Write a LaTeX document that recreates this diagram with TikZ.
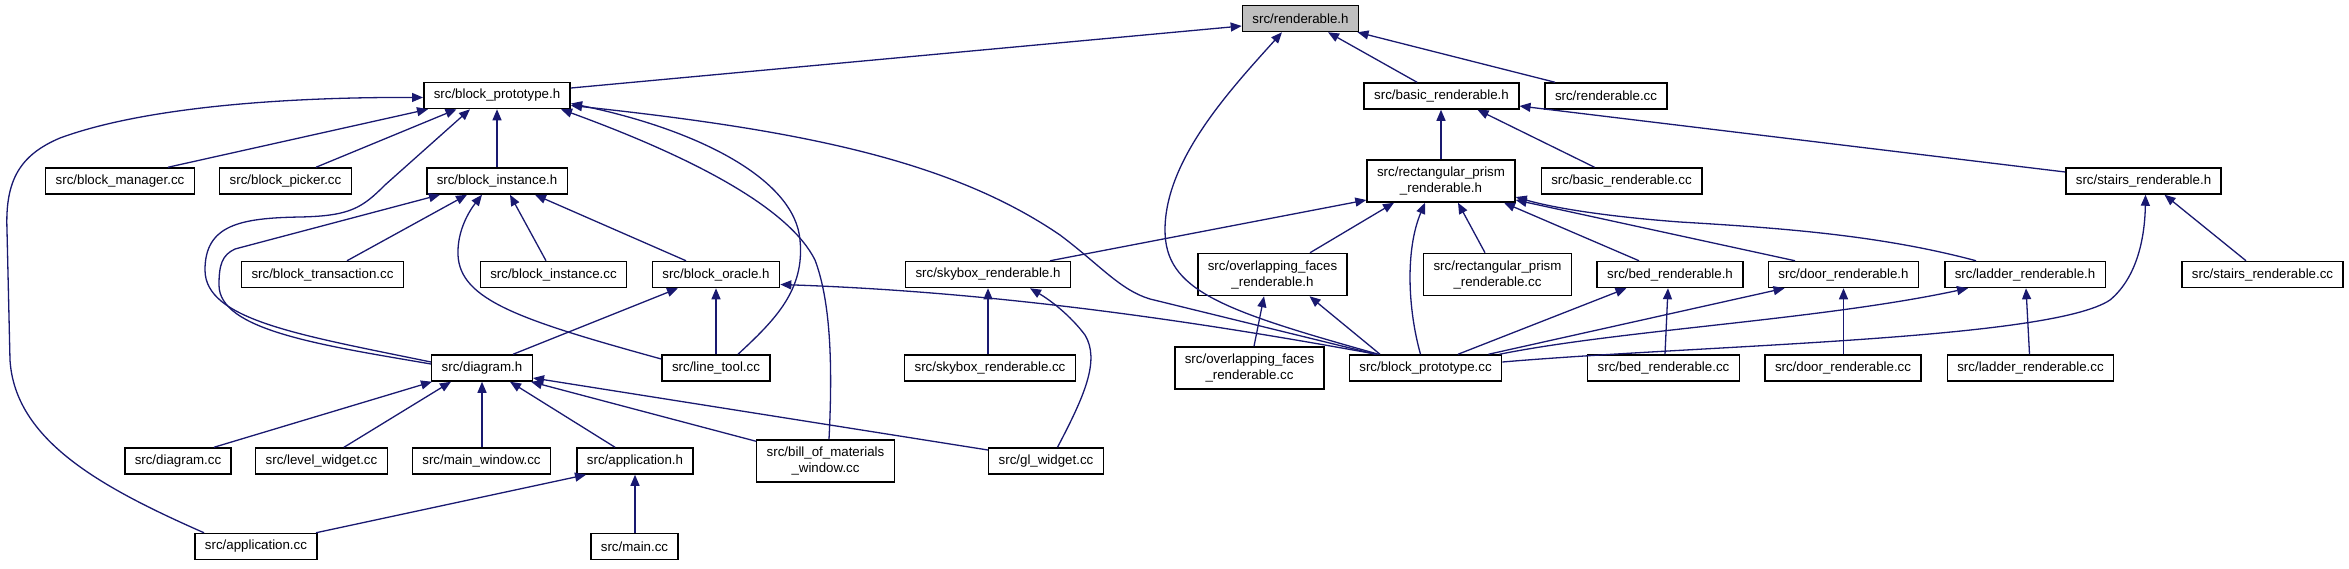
\documentclass[tikz,border=0pt]{standalone}
\usepackage{fontspec}
\setmainfont{Liberation Sans}
\usetikzlibrary{arrows.meta}
\definecolor{dxblue}{HTML}{191970}
\definecolor{dxgray}{HTML}{BFBFBF}
\tikzset{
  box/.style={draw=black, line width=1.5pt, fill=white, inner xsep=10pt, inner ysep=0pt,
    minimum height=26pt, font=\fontsize{13.3}{16}\selectfont, align=center},
  twoline/.style={box, minimum height=42pt},
  incl/.style={draw=dxblue, line width=1.3pt, -{Triangle[length=11pt,width=9pt]}},
}
\begin{document}
\begin{tikzpicture}[x=1pt,y=-1pt]
\useasboundingbox (0,0) rectangle (2349,568);
% row 0
\node[box,fill=dxgray] (rh) at (1300.5,18.5) {src/renderable.h};
% row 1
\node[box] (bph) at (497,95.5) {src/block\_prototype.h};
\node[box] (brh) at (1441.5,96) {src/basic\_renderable.h};
\node[box] (rcc) at (1606,96) {src/renderable.cc};
% row 2
\node[box] (bmcc) at (120,181) {src/block\_manager.cc};
\node[box] (bpick) at (285.5,181) {src/block\_picker.cc};
\node[box] (bih) at (497,181) {src/block\_instance.h};
\node[twoline] (rph) at (1441,181) {src/rectangular\_prism\\\_renderable.h};
\node[box] (brcc) at (1621.5,181) {src/basic\_renderable.cc};
\node[box] (srh) at (2143.5,181) {src/stairs\_renderable.h};
% row 3
\node[box] (btcc) at (322.5,274.5) {src/block\_transaction.cc};
\node[box] (bicc) at (553.5,274.5) {src/block\_instance.cc};
\node[box] (boh) at (716,274.5) {src/block\_oracle.h};
\node[box] (skh) at (988,274.5) {src/skybox\_renderable.h};
\node[twoline] (ofh) at (1272.5,274.5) {src/overlapping\_faces\\\_renderable.h};
\node[twoline] (rpcc) at (1497.5,274.5) {src/rectangular\_prism\\\_renderable.cc};
\node[box] (bedh) at (1670,274.5) {src/bed\_renderable.h};
\node[box] (doorh) at (1843.5,274.5) {src/door\_renderable.h};
\node[box] (ladh) at (2025,274.5) {src/ladder\_renderable.h};
\node[box] (srcc) at (2262.5,274.5) {src/stairs\_renderable.cc};
% row 4
\node[box] (dh) at (482,368) {src/diagram.h};
\node[box] (ltcc) at (716,368) {src/line\_tool.cc};
\node[box] (skcc) at (990,368) {src/skybox\_renderable.cc};
\node[twoline] (ofcc) at (1249.5,368) {src/overlapping\_faces\\\_renderable.cc};
\node[box] (bpcc) at (1425.5,368) {src/block\_prototype.cc};
\node[box] (bedcc) at (1663.5,368) {src/bed\_renderable.cc};
\node[box] (doorcc) at (1843,368) {src/door\_renderable.cc};
\node[box] (ladcc) at (2030.5,368) {src/ladder\_renderable.cc};
% row 5
\node[box] (dcc) at (178,461) {src/diagram.cc};
\node[box] (lwcc) at (321.5,461) {src/level\_widget.cc};
\node[box] (mwcc) at (481.5,461) {src/main\_window.cc};
\node[box] (aph) at (635,461) {src/application.h};
\node[twoline] (bomcc) at (825.5,461) {src/bill\_of\_materials\\\_window.cc};
\node[box] (glcc) at (1046,461) {src/gl\_widget.cc};
% row 6
\node[box] (apcc) at (256,546.5) {src/application.cc};
\node[box] (maincc) at (634.5,546.5) {src/main.cc};

% edges to renderable.h
\draw[incl] ([yshift=7.5pt]bph.east) -- ([yshift=-7.5pt]rh.west);
\draw[incl] ([xshift=-47pt]bpcc.north) .. controls (1220,310) and (1165,290) .. (1165,230) .. controls (1165,160) and (1230,90) .. ([xshift=-18.5pt]rh.south);
\draw[incl] ([xshift=-24.5pt]brh.north) -- ([xshift=27.5pt]rh.south);
\draw[incl] ([xshift=-51pt]rcc.north) -- ([xshift=57pt]rh.south);
% basic_renderable.h
\draw[incl] ([yshift=9pt]srh.west) -- ([yshift=-10pt]brh.east);
\draw[incl] (rph.north) -- (rph.north |- brh.south);
\draw[incl] ([xshift=-27pt]brcc.north) -- ([xshift=36pt]brh.south);
% block_prototype.h
\draw[incl] ([xshift=48pt]bmcc.north) -- ([xshift=-69pt]bph.south);
\draw[incl] ([xshift=30.5pt]bpick.north) -- ([xshift=-40.5pt]bph.south);
\draw[incl] (bih.north) -- (bph.south);
\draw[incl] ([yshift=6pt]dh.west) .. controls (300,335) and (205,320) .. (205,270) .. controls (205,225) and (240,218) .. (300,217) .. controls (350,216) and (362,208) .. (385,185) -- ([xshift=-27pt]bph.south);
\draw[incl] ([xshift=-52pt]apcc.north) .. controls (100,487) and (15,440) .. (10,360) -- (7,230) .. controls (5,180) and (20,155) .. (60,138) .. controls (150,105) and (300,97) .. ([yshift=-2pt]bph.west);
\draw[incl] ([xshift=22pt]ltcc.north) .. controls (775,320) and (805,290) .. (800,240) .. controls (795,180) and (700,130) .. ([yshift=-8pt]bph.east);
\draw[incl] ([xshift=-50pt]bpcc.north) -- (1150,299) .. controls (1120,290) and (1100,265) .. (1060,235) .. controls (950,160) and (800,130) .. ([yshift=-10pt]bph.east);
\draw[incl] ([xshift=3.5pt]bomcc.north) .. controls (833,360) and (830,300) .. (815,260) .. controls (790,210) and (700,160) .. ([xshift=64pt]bph.south);
% block_instance.h
\draw[incl] ([xshift=24.5pt]btcc.north) -- ([xshift=-30pt]bih.south);
\draw[incl] ([yshift=4pt]dh.west) .. controls (320,345) and (219,330) .. (219,285) .. controls (219,265) and (222,255) .. (235,249) -- ([xshift=-57pt]bih.south);
\draw[incl] ([yshift=9pt]ltcc.west) .. controls (520,320) and (460,300) .. (458,255) .. controls (457,230) and (470,210) .. ([xshift=-15pt]bih.south);
\draw[incl] ([xshift=-7.5pt]bicc.north) -- ([xshift=13pt]bih.south);
\draw[incl] ([xshift=-30pt]boh.north) -- ([xshift=38pt]bih.south);
% block_oracle.h
\draw[incl] ([xshift=31pt]dh.north) -- ([xshift=-38pt]boh.south);
\draw[incl] (ltcc.north) -- (boh.south);
\draw[incl] ([xshift=-49pt]bpcc.north) .. controls (1200,322) and (1000,292) .. ([yshift=-10pt]boh.east);
% diagram.h
\draw[incl] ([xshift=36pt]dcc.north) -- ([xshift=-50pt]dh.south);
\draw[incl] ([xshift=22.5pt]lwcc.north) -- ([xshift=-31pt]dh.south);
\draw[incl] (dh.south |- mwcc.north) -- (dh.south);
\draw[incl] ([xshift=-20pt]aph.north) -- ([xshift=28pt]dh.south);
\draw[incl] ([yshift=-2pt]bomcc.north west) -- ([xshift=-2pt]dh.south east);
\draw[incl] ([yshift=11pt]glcc.west) -- ([yshift=-10pt]dh.east);
% application.h
\draw[incl] ([xshift=60pt]apcc.north) -- ([xshift=-49pt]aph.south);
\draw[incl] (aph.south |- maincc.north) -- (aph.south);
% skybox_renderable.h
\draw[incl] (skh.south |- skcc.north) -- (skh.south);
\draw[incl] ([xshift=11.5pt]glcc.north) .. controls (1085,395) and (1100,360) .. (1085,335) .. controls (1070,315) and (1050,300) .. ([xshift=42pt]skh.south);
% rectangular_prism_renderable.h
\draw[incl] ([xshift=62pt]skh.north) -- ([yshift=-19pt]rph.west);
\draw[incl] ([xshift=37.5pt]ofh.north) -- ([xshift=-47pt]rph.south);
\draw[incl] ([xshift=-5pt]bpcc.north) .. controls (1408,310) and (1405,250) .. ([xshift=-16pt]rph.south);
\draw[incl] ([xshift=-12.5pt]rpcc.north) -- ([xshift=17pt]rph.south);
\draw[incl] ([xshift=-31pt]bedh.north) -- ([xshift=63pt]rph.south);
\draw[incl] ([xshift=-48.5pt]doorh.north) -- ([yshift=-19pt]rph.east);
\draw[incl] ([xshift=-49pt]ladh.north) .. controls (1880,235) and (1780,228) .. (1680,222) .. controls (1600,216) and (1550,207) .. ([yshift=-16pt]rph.east);
% overlapping_faces_renderable.h
\draw[incl] ([xshift=-45.5pt]bpcc.north) -- ([xshift=37pt]ofh.south);
\draw[incl] ([xshift=4.5pt]ofcc.north) -- ([xshift=-8.5pt]ofh.south);
% bed / door / ladder / stairs
\draw[incl] ([xshift=32.5pt]bpcc.north) -- ([xshift=-43.5pt]bedh.south);
\draw[incl] ([xshift=63pt]bpcc.north) -- ([xshift=-59pt]doorh.south);
\draw[incl] ([xshift=74pt]bpcc.north) .. controls (1620,330) and (1820,320) .. ([xshift=-57pt]ladh.south);
\draw[incl] ([yshift=6pt]bpcc.east) .. controls (1700,345) and (2050,340) .. (2110,300) .. controls (2140,275) and (2145,230) .. ([xshift=2pt]srh.south);
\draw[incl] ([xshift=1.5pt]bedcc.north) -- ([xshift=-2pt]bedh.south);
\draw[incl] (doorh.south |- doorcc.north) -- (doorh.south);
\draw[incl] ([xshift=-1pt]ladcc.north) -- ([xshift=1pt]ladh.south);
\draw[incl] ([xshift=-16.5pt]srcc.north) -- ([xshift=21pt]srh.south);
\end{tikzpicture}
\end{document}
